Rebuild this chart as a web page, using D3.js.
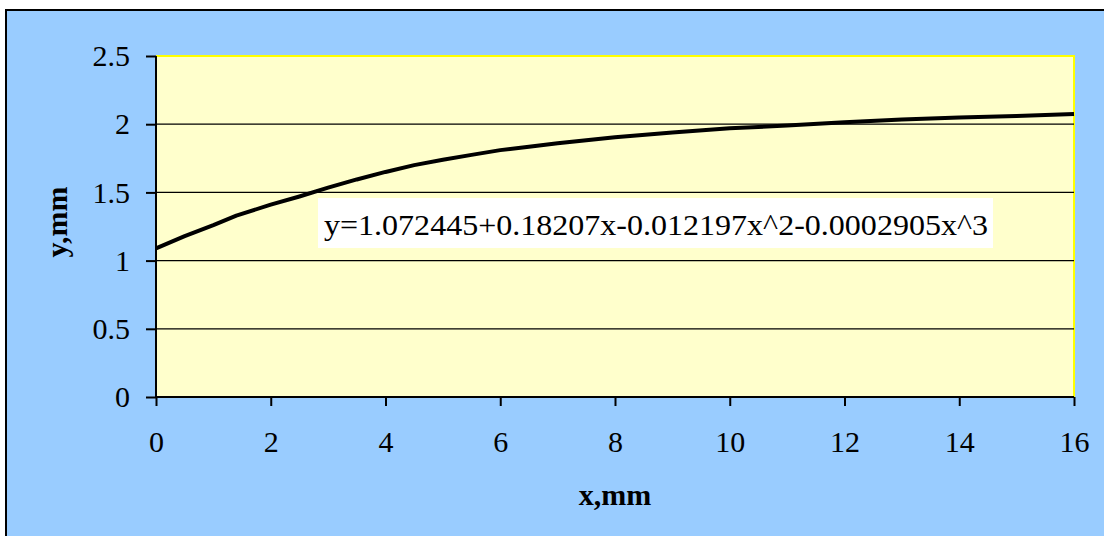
<!DOCTYPE html>
<html>
<head>
<meta charset="utf-8">
<script src="https://cdn.jsdelivr.net/npm/d3@7"></script>
<style>
  html, body { margin: 0; padding: 0; background: #fff; }
  svg { display: block; font-family: "Liberation Serif", "DejaVu Serif", serif; }
</style>
</head>
<body>
<div id="app"></div>
<script>
// values
const xValues = [0, 0.5, 1, 1.4, 2, 2.5, 3, 3.5, 4, 4.5, 5, 5.5, 6, 6.5, 7, 8, 9, 10, 11, 12, 13, 14, 15, 16];
const yValues = [1.09, 1.18, 1.26, 1.33, 1.41, 1.47, 1.535, 1.595, 1.65, 1.70, 1.74, 1.775, 1.81, 1.835, 1.86, 1.905, 1.94, 1.97, 1.99, 2.015, 2.035, 2.05, 2.06, 2.075];
const xTicks = [0, 2, 4, 6, 8, 10, 12, 14, 16];
const yTicks = [0, 0.5, 1, 1.5, 2, 2.5];
const equationText = 'y=1.072445+0.18207x-0.012197x^2-0.0002905x^3';
const xTitle = 'x,mm';
const yTitle = 'y,mm';

const data = xValues.map((x, i) => ({ x: x, y: yValues[i] }));

const w = 1104;
const h = 536;
const plot = { left: 156, right: 1074, top: 56, bottom: 397 };

const svg = d3.select('#app')
  .append('svg')
  .attr('width', w)
  .attr('height', h);

// chart frame
svg.append('rect')
  .attr('x', 6)
  .attr('y', 10)
  .attr('width', w + 10)
  .attr('height', h + 10)
  .attr('fill', '#99CCFF')
  .attr('stroke', '#000')
  .attr('stroke-width', 2);

const xScale = d3.scaleLinear().domain([0, 16]).range([plot.left, plot.right]);
const yScale = d3.scaleLinear().domain([0, 2.5]).range([plot.bottom, plot.top]);

// plot area
svg.append('rect')
  .attr('x', plot.left)
  .attr('y', plot.top)
  .attr('width', plot.right - plot.left)
  .attr('height', plot.bottom - plot.top)
  .attr('fill', '#FFFFCC');

svg.append('path')
  .attr('d', 'M' + plot.left + ',' + plot.top + 'H' + plot.right + 'V' + plot.bottom)
  .attr('fill', 'none')
  .attr('stroke', '#FFFF00')
  .attr('stroke-width', 2);

// gridlines
svg.append('g')
  .selectAll('line')
  .data(yTicks.filter((d) => d > 0 && d < 2.5))
  .enter()
  .append('line')
  .attr('x1', plot.left)
  .attr('x2', plot.right)
  .attr('y1', (d) => yScale(d))
  .attr('y2', (d) => yScale(d))
  .attr('stroke', '#000')
  .attr('stroke-width', 1.3);

/////////AXES//////////
const xAxis = d3.axisBottom(xScale).tickValues(xTicks).tickSize(9).tickPadding(25).tickFormat(d3.format('d'));
const yAxis = d3.axisLeft(yScale).tickValues(yTicks).tickSize(10).tickPadding(16).tickFormat((d) => String(d));

const gx = svg.append('g')
  .attr('transform', 'translate(0,' + plot.bottom + ')')
  .call(xAxis);

const gy = svg.append('g')
  .attr('transform', 'translate(' + plot.left + ',0)')
  .call(yAxis);

[gx, gy].forEach((g) => {
  g.select('.domain').attr('stroke', '#000').attr('stroke-width', 2);
  g.selectAll('.tick line').attr('stroke', '#000').attr('stroke-width', 2);
  g.selectAll('.tick text')
    .attr('fill', '#000')
    .style('font-family', '"Liberation Serif", serif')
    .style('font-size', '30px');
});
gx.select('.domain').attr('d', 'M' + plot.left + ',0H' + plot.right);
gy.select('.domain').attr('d', 'M0,' + plot.top + 'V' + plot.bottom);

// axis titles
svg.append('text')
  .attr('x', 615)
  .attr('y', 505)
  .attr('text-anchor', 'middle')
  .style('font-size', '30px')
  .style('font-weight', 'bold')
  .text(xTitle);

svg.append('text')
  .attr('transform', 'translate(67,222) rotate(-90)')
  .attr('text-anchor', 'middle')
  .style('font-size', '30px')
  .style('font-weight', 'bold')
  .text(yTitle);

//////////LINE//////////
const line = d3.line()
  .x((d) => xScale(d.x))
  .y((d) => yScale(d.y));

svg.append('path')
  .datum(data)
  .attr('d', line)
  .attr('fill', 'none')
  .attr('stroke', '#000')
  .attr('stroke-width', 4)
  .attr('stroke-linejoin', 'round');

//////////EQUATION//////////
svg.append('rect')
  .attr('x', 318)
  .attr('y', 198)
  .attr('width', 675)
  .attr('height', 50)
  .attr('fill', '#fff');

svg.append('text')
  .attr('x', 324)
  .attr('y', 235)
  .style('font-size', '29px')
  .attr('textLength', 664)
  .attr('lengthAdjust', 'spacingAndGlyphs')
  .text(equationText);
</script>
</body>
</html>
